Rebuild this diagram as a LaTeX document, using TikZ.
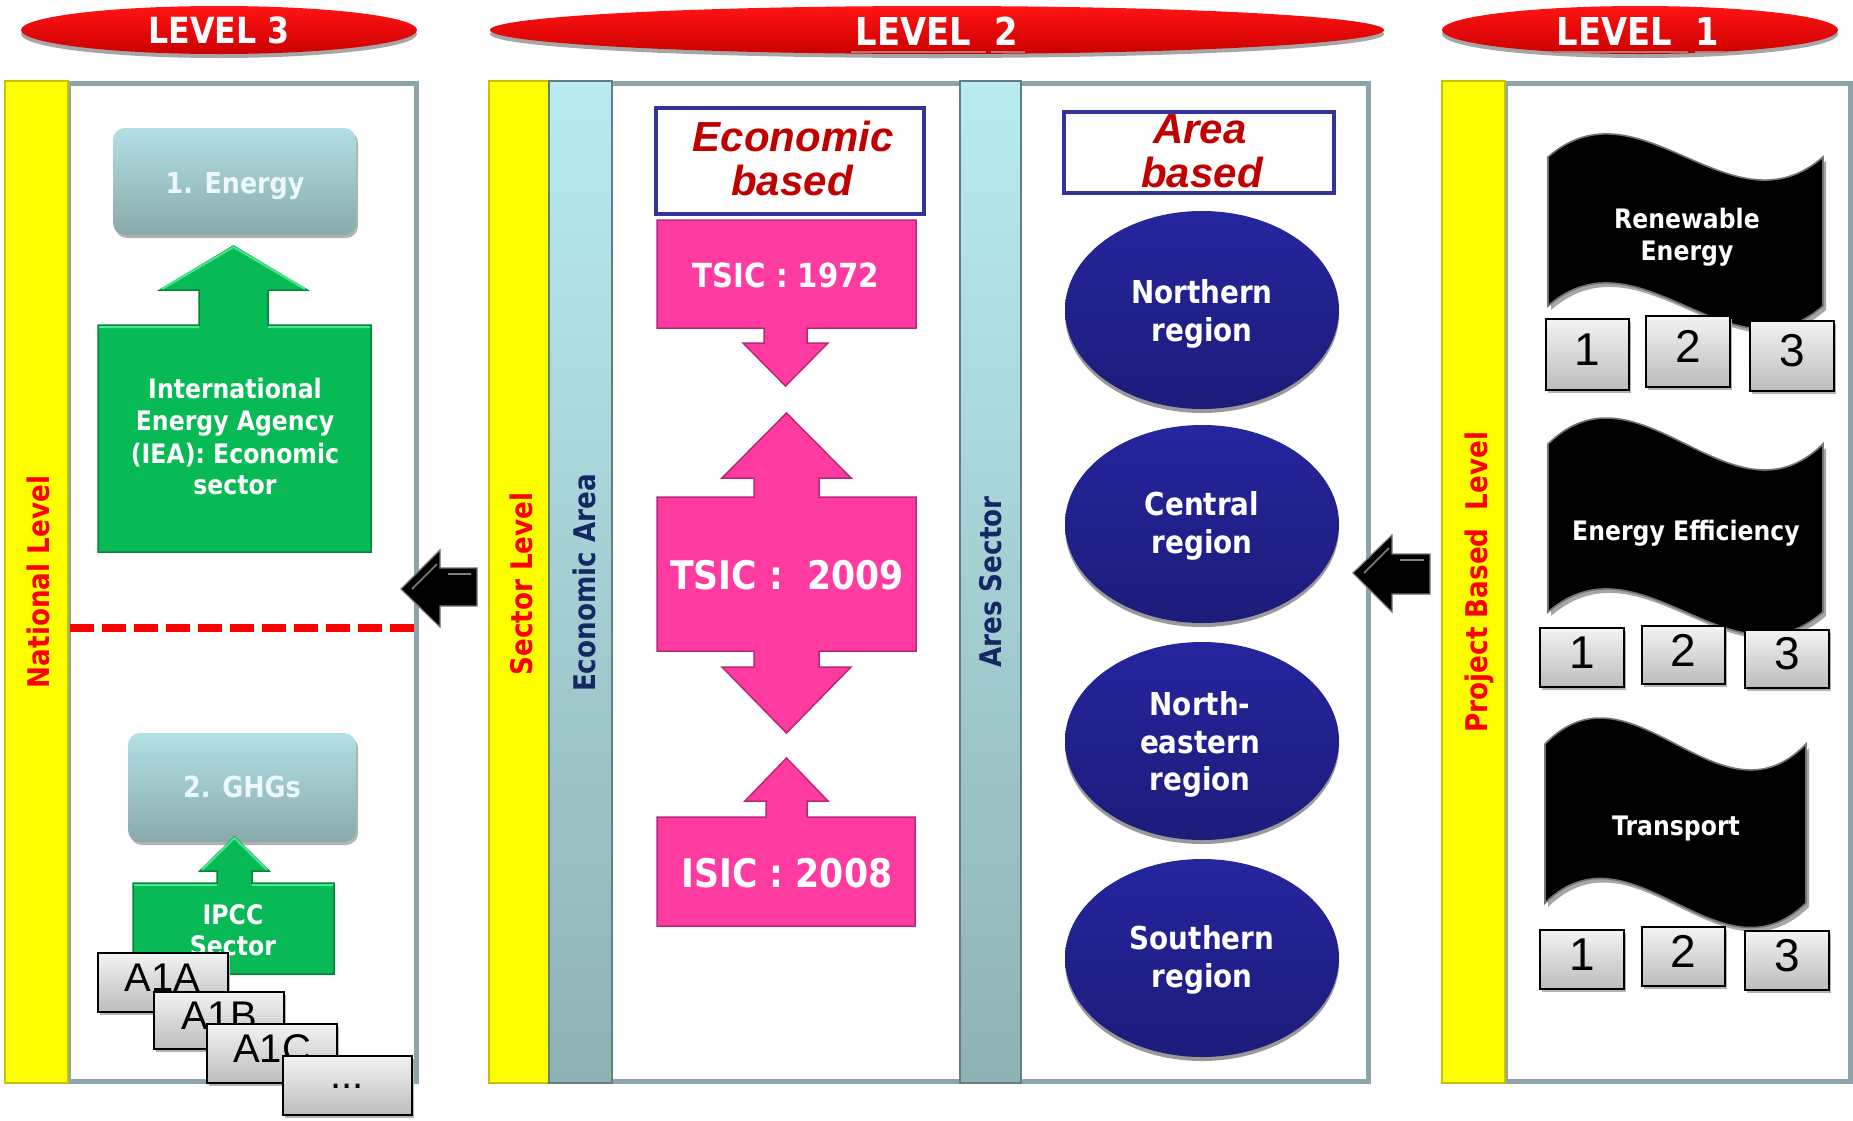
\documentclass[tikz,border=0pt]{standalone}
\usepackage{fontspec}
\setmainfont{DejaVu Sans}
\newfontfamily\tah[FakeStretch=0.88]{DejaVu Sans}
\newfontfamily\ari{Liberation Sans}
\usetikzlibrary{shapes.geometric}
\definecolor{lvred}{RGB}{255,20,20}
\definecolor{lvredd}{RGB}{205,0,0}
\definecolor{lvsh}{RGB}{185,115,115}
\definecolor{ylw}{RGB}{255,255,0}
\definecolor{ylwd}{RGB}{195,195,0}
\definecolor{tealt}{RGB}{184,236,241}
\definecolor{tealb}{RGB}{143,178,180}
\definecolor{pborder}{RGB}{139,165,168}
\definecolor{grn}{RGB}{8,186,86}
\definecolor{grnd}{RGB}{5,130,60}
\definecolor{grnl}{RGB}{70,235,140}
\definecolor{boxt}{RGB}{178,224,228}
\definecolor{boxb}{RGB}{137,170,171}
\definecolor{pnk}{RGB}{255,58,160}
\definecolor{pnkd}{RGB}{185,40,120}
\definecolor{navyt}{RGB}{37,37,158}
\definecolor{navyb}{RGB}{28,28,122}
\definecolor{ebord}{RGB}{51,51,153}
\definecolor{dred}{RGB}{192,0,0}
\definecolor{dnavy}{RGB}{22,40,100}
\definecolor{gtop}{RGB}{243,243,243}
\definecolor{gbot}{RGB}{188,188,188}
\newcommand\mygbox[6]{%
  \fill[black!30] (#2+2,#3+3) rectangle (#4+2,#5+3);
  \path[gbox] (#2,#3) rectangle (#4,#5);
  \node[numtxt] (#1) at ({(#2+#4)/2},{(#3+#5)/2-5}) {#6};}
\begin{document}
\begin{tikzpicture}[x=0.5pt,y=-0.5pt,
 lvltxt/.style={text=white,inner sep=0pt,font=\tah\bfseries\fontsize{19.2pt}{21pt}\selectfont},
 vlab/.style={rotate=90,inner sep=0pt,font=\tah\bfseries\fontsize{14.9pt}{16pt}\selectfont},
 panel/.style={draw=pborder,line width=2.5pt,fill=white},
 wt/.style={text=white,inner sep=0pt,anchor=base},
 szA/.style={font=\tah\bfseries\fontsize{13.4pt}{15pt}\selectfont},
 szB/.style={font=\tah\bfseries\fontsize{14.4pt}{16pt}\selectfont},
 szC/.style={font=\tah\bfseries\fontsize{14.5pt}{16pt}\selectfont},
 szD/.style={font=\tah\bfseries\fontsize{15.8pt}{17pt}\selectfont},
 szF/.style={font=\tah\bfseries\fontsize{16.6pt}{18pt}\selectfont},
 szE/.style={font=\tah\bfseries\fontsize{19.7pt}{21pt}\selectfont},
 gbox/.style={top color=gtop,bottom color=gbot,draw=black,line width=1pt},
 numtxt/.style={inner sep=0pt,font=\ari\fontsize{23pt}{25pt}\selectfont},
 atxt/.style={inner sep=0pt,font=\ari\fontsize{20pt}{22pt}\selectfont},
 callg/.style={fill=grn,draw=grnd,line width=0.75pt},
 callp/.style={fill=pnk,draw=pnkd,line width=0.75pt},
 regfill/.style={top color=navyt,bottom color=navyb},
 ttl/.style={text=dred,inner sep=0pt,anchor=base,font=\ari\bfseries\itshape\fontsize{21pt}{23pt}\selectfont},
 blk/.style={fill=black,draw=black!55,line width=0.6pt},
 flag/.style={fill=black,draw=black!55,line width=0.8pt},
]
\fill[white] (0,0) rectangle (1853,1120);
\useasboundingbox (0,0) rectangle (1853,1120);

% ---- level banners
\foreach \cx/\rx in {219/99, 937/223.5, 1640/99}{
  \fill[black!35] (\cx,34) ellipse [x radius=\rx pt, y radius=12pt];
  \shade[top color=lvred, bottom color=lvredd] (\cx,30) ellipse [x radius=\rx pt, y radius=12pt];
}
\fill[lvsh] (851,51) rectangle (986,53);
\fill[lvsh] (991,51) rectangle (1025,53);
\fill[lvsh] (1553,51) rectangle (1688,53);
\fill[lvsh] (1695,51) rectangle (1725,53);
\node[lvltxt,font=\tah\bfseries\fontsize{18pt}{20pt}\selectfont] (lthree) at (219,30.5) {LEVEL 3};
\node[lvltxt] (ltwo) at (937,31) {LEVEL\ \ 2};
\node[lvltxt] (lone) at (1638,31) {LEVEL\ \ 1};

% ---- panels
\draw[panel] (68,83) rectangle (416,1081);
\draw[panel] (549,83) rectangle (1368,1081);
\draw[panel] (1505,83) rectangle (1850,1081);
\fill[ylw,draw=ylwd,line width=0.7pt] (5,81) rectangle (68,1083);
\fill[ylw,draw=ylwd,line width=0.7pt] (489,81) rectangle (549,1083);
\fill[ylw,draw=ylwd,line width=0.7pt] (1442,81) rectangle (1505,1083);
\shade[top color=tealt,bottom color=tealb] (549,81) rectangle (612,1083);
\draw[tealb!70!black,line width=0.7pt] (549,81) rectangle (612,1083);
\shade[top color=tealt,bottom color=tealb] (960,81) rectangle (1021,1083);
\draw[tealb!70!black,line width=0.7pt] (960,81) rectangle (1021,1083);

\node[vlab,text=red] (natl) at (38,582) {National Level};
\node[vlab,text=red] (sect) at (521,584) {Sector Level};
\node[vlab,text=dnavy] (econ) at (584,583) {Economic Area};
\node[vlab,text=dnavy] (ares) at (991,582) {Ares Sector};
\node[vlab,text=red] (proj) at (1479,582) {Project Based\ \ Level};

% ---- level 3 content
\fill[black!30,rounded corners=6pt] (115,131) rectangle (358,238);
\shade[top color=boxt,bottom color=boxb,rounded corners=6pt] (113,128) rectangle (356,235);
\node[wt,szB,text=white!92!cyan] (energy) at (235,193) {1. Energy};

\path[callg] (98,552) -- (98,325) -- (199,325) -- (199,290) -- (160,290) -- (233.5,246)
  -- (307,290) -- (268,290) -- (268,325) -- (371,325) -- (371,552) -- cycle;
\draw[grnl,line width=1pt] (99,327) -- (199,327) (268,327) -- (370,327) (162,289) -- (233.5,247) -- (305,289);
\node[wt,szA] (iea1) at (235,398) {International};
\node[wt,szA] (iea2) at (235,430) {Energy Agency};
\node[wt,szA] (iea3) at (235,463) {(IEA): Economic};
\node[wt,szA] (iea4) at (235,494) {sector};

\draw[red,line width=4pt,dash pattern=on 12pt off 4pt] (70,628) -- (414,628);

\fill[black!30,rounded corners=6pt] (130,736) rectangle (358,845);
\shade[top color=boxt,bottom color=boxb,rounded corners=6pt] (128,733) rectangle (356,842);
\node[wt,szC,text=white!92!cyan] (ghg) at (242,797) {2. GHGs};

\path[callg] (133,974) -- (133,883) -- (217,883) -- (217,871) -- (200,871) -- (234.5,837)
  -- (269,871) -- (252,871) -- (252,883) -- (334,883) -- (334,974) -- cycle;
\draw[grnl,line width=1pt] (134,885) -- (217,885) (252,885) -- (333,885) (202,870) -- (234.5,838) -- (267,870);
\node[wt,szA] (ipcc1) at (233,924) {IPCC};
\node[wt,szA] (ipcc2) at (233,955) {Sector};

\fill[black!30] (100,956) rectangle (230,1015);
\path[gbox] (98,953) rectangle (228,1012);
\node[atxt] (aa) at (162.5,978) {A1A};
\fill[black!30] (156,995) rectangle (286,1052);
\path[gbox] (154,992) rectangle (284,1049);
\node[atxt] (ab) at (219,1016) {A1B};
\fill[black!30] (209,1027) rectangle (339,1086);
\path[gbox] (207,1024) rectangle (337,1083);
\node[atxt] (ac) at (272,1049) {A1C};
\fill[black!30] (285,1059) rectangle (414,1118);
\path[gbox] (283,1056) rectangle (412,1115);
\node[atxt] (adots) at (347,1086) {...};

% ---- arrows between levels
\path[blk] (401,589) -- (440,550) -- (440,568) -- (477,568) -- (477,606) -- (440,606) -- (440,627) -- cycle;
\draw[black!50,line width=0.8pt] (412,589) -- (437,564) (448,574) -- (471,574);
\path[blk] (1353,573) -- (1392,535) -- (1392,554) -- (1430,554) -- (1430,594) -- (1392,594) -- (1392,612) -- cycle;
\draw[black!50,line width=0.8pt] (1364,573) -- (1389,548) (1400,560) -- (1424,560);

% ---- level 2 economic
\draw[ebord,line width=2pt,fill=white] (656,108) rectangle (924,214);
\node[ttl] (eb1) at (793,151) {Economic};
\node[ttl] (eb2) at (792,195) {based};

\path[callp] (657,220) -- (916,220) -- (916,328) -- (807,328) -- (807,343) -- (828,343) -- (785.5,386)
  -- (743,343) -- (764,343) -- (764,328) -- (657,328) -- cycle;
\node[wt,szF] (tsic72) at (786,287) {TSIC : 1972};

\path[callp] (657,497) -- (754,497) -- (754,478) -- (722,478) -- (786.5,413) -- (851,478) -- (819,478)
  -- (819,497) -- (916,497) -- (916,651) -- (819,651) -- (819,667) -- (851,667) -- (786.5,733)
  -- (722,667) -- (754,667) -- (754,651) -- (657,651) -- cycle;
\node[wt,szE] (tsic09) at (787,589) {TSIC :\ \ 2009};

\path[callp] (657,926) -- (657,817) -- (766,817) -- (766,801) -- (745,801) -- (786.5,758)
  -- (828,801) -- (807,801) -- (807,817) -- (915,817) -- (915,926) -- cycle;
\node[wt,szE] (isic) at (787,887) {ISIC : 2008};

% ---- level 2 area
\draw[ebord,line width=2pt,fill=white] (1064,112) rectangle (1334,193);
\node[ttl] (ab1) at (1200,143.5) {Area};
\node[ttl] (ab2) at (1202,187.5) {based};

\foreach \cy in {310,524,741,958}{
  \fill[black!40] (1202,\cy+4) ellipse [x radius=68.5pt, y radius=49.5pt];
  \shade[regfill] (1202,\cy) ellipse [x radius=68.5pt, y radius=49.5pt];
}
\node[wt,szD] (nor1) at (1202,303) {Northern};
\node[wt,szD] (nor2) at (1202,341) {region};
\node[wt,szD] (cen1) at (1202,515.5) {Central};
\node[wt,szD] (cen2) at (1202,553) {region};
\node[wt,szD] (ne1) at (1200,715) {North-};
\node[wt,szD] (ne2) at (1200,753) {eastern};
\node[wt,szD] (ne3) at (1200,790) {region};
\node[wt,szD] (sou1) at (1202,949) {Southern};
\node[wt,szD] (sou2) at (1202,987) {region};

% ---- level 1 flags
\fill[black!35] (1551,161) .. controls (1643,81) and (1734,241) .. (1826,161) -- (1826,310)
  .. controls (1734,390) and (1643,230) .. (1551,310) -- cycle;
\path[flag] (1548,157) .. controls (1640,77) and (1731,237) .. (1823,157) -- (1823,306)
  .. controls (1731,386) and (1640,226) .. (1548,306) -- cycle;
\node[wt,szA] (re1) at (1687,228) {Renewable};
\node[wt,szA] (re2) at (1687,260) {Energy};

\fill[black!35] (1551,448) .. controls (1643,358) and (1734,538) .. (1826,448) -- (1826,616)
  .. controls (1734,696) and (1643,536) .. (1551,616) -- cycle;
\path[flag] (1548,444) .. controls (1640,354) and (1731,534) .. (1823,444) -- (1823,612)
  .. controls (1731,692) and (1640,532) .. (1548,612) -- cycle;
\node[wt,szA] (ee) at (1686,540) {Energy Efficiency};

\fill[black!35] (1548,748) .. controls (1635,658) and (1722,838) .. (1809,748) -- (1809,907)
  .. controls (1722,992) and (1635,822) .. (1548,907) -- cycle;
\path[flag] (1545,744) .. controls (1632,654) and (1719,834) .. (1806,744) -- (1806,903)
  .. controls (1719,988) and (1632,818) .. (1545,903) -- cycle;
\node[wt,szA] (tr) at (1676,835) {Transport};

\mygbox{reA}{1546}{319}{1629}{390}{1}
\mygbox{reB}{1646}{316}{1730}{387}{2}
\mygbox{reC}{1750}{321}{1834}{391}{3}
\mygbox{eeA}{1540}{628}{1624}{687}{1}
\mygbox{eeB}{1642}{626}{1725}{684}{2}
\mygbox{eeC}{1745}{630}{1829}{688}{3}
\mygbox{trA}{1540}{930}{1624}{989}{1}
\mygbox{trB}{1642}{927}{1725}{986}{2}
\mygbox{trC}{1745}{931}{1829}{990}{3}
\end{tikzpicture}
\end{document}
